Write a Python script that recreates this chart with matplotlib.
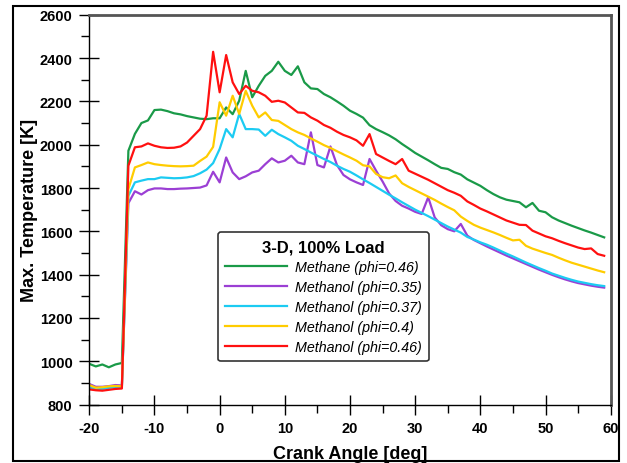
import numpy as np
import matplotlib.pyplot as plt
from matplotlib.patches import Rectangle
from matplotlib.ticker import MultipleLocator

plt.rcParams['font.family'] = ['Liberation Sans', 'DejaVu Sans']
plt.rcParams['axes.unicode_minus'] = False

# crank angle, one value per degree
crank = list(range(-20, 60))

methane_046 = [988, 976, 985, 972, 985, 992,
               1972, 2050, 2100, 2112, 2160, 2162, 2155, 2145, 2140, 2132, 2126, 2120, 2118, 2122,
               2122, 2172, 2141, 2203, 2341, 2219, 2272, 2318, 2341, 2383, 2341, 2322, 2362, 2288,
               2260, 2257, 2234, 2219, 2200, 2180, 2157, 2142, 2125, 2090, 2072, 2058, 2043, 2025,
               2003, 1983, 1962, 1945, 1928, 1910, 1893, 1888, 1873, 1862, 1840, 1825, 1810, 1790,
               1772, 1757, 1746, 1740, 1734, 1711, 1731, 1695, 1688, 1665, 1650, 1638, 1626, 1615,
               1604, 1594, 1583, 1572]

methanol_035 = [895, 882, 882, 885, 890, 888,
                1730, 1785, 1770, 1790, 1798, 1798, 1795, 1795, 1797, 1798, 1800, 1802, 1812, 1875,
                1826, 1941, 1872, 1841, 1854, 1872, 1880, 1910, 1937, 1918, 1926, 1949, 1918, 1910,
                2057, 1906, 1895, 1992, 1906, 1860, 1840, 1826, 1814, 1934, 1880, 1830, 1775, 1740,
                1718, 1705, 1690, 1680, 1757, 1664, 1628, 1610, 1600, 1634, 1580, 1560, 1545, 1530,
                1516, 1502, 1488, 1475, 1462, 1449, 1436, 1423, 1411, 1399, 1388, 1378, 1369, 1361,
                1355, 1349, 1344, 1340]

methanol_037 = [880, 870, 872, 877, 880, 880,
                1764, 1826, 1834, 1841, 1841, 1849, 1847, 1845, 1846, 1849, 1855, 1868, 1885, 1915,
                1980, 2072, 2034, 2142, 2072, 2072, 2070, 2041, 2069, 2049, 2034, 2018, 1995, 1980,
                1964, 1949, 1934, 1920, 1903, 1888, 1875, 1858, 1840, 1823, 1805, 1787, 1769, 1752,
                1734, 1717, 1700, 1685, 1670, 1654, 1638, 1622, 1608, 1594, 1574, 1562, 1549, 1538,
                1525, 1511, 1497, 1484, 1470, 1456, 1443, 1430, 1418, 1405, 1395, 1385, 1376, 1368,
                1362, 1356, 1351, 1347]

methanol_040 = [890, 878, 880, 884, 886, 884,
                1795, 1895, 1906, 1918, 1910, 1906, 1903, 1901, 1900, 1901, 1903, 1925, 1945, 1990,
                2196, 2134, 2226, 2142, 2249, 2180, 2126, 2149, 2114, 2110, 2091, 2072, 2057, 2045,
                2029, 2014, 1998, 1985, 1970, 1955, 1941, 1926, 1905, 1900, 1865, 1850, 1845, 1858,
                1822, 1805, 1790, 1775, 1760, 1745, 1728, 1712, 1697, 1668, 1648, 1630, 1617, 1606,
                1595, 1583, 1570, 1558, 1561, 1533, 1520, 1510, 1500, 1491, 1478, 1466, 1455, 1446,
                1437, 1428, 1419, 1411]

methanol_046 = [870, 866, 864, 868, 872, 874,
                1903, 1988, 1992, 2006, 1995, 1988, 1985, 1986, 1992, 2010, 2041, 2072, 2134, 2429,
                2242, 2414, 2288, 2234, 2272, 2249, 2242, 2226, 2198, 2203, 2195, 2172, 2149, 2147,
                2126, 2111, 2091, 2078, 2060, 2045, 2034, 2020, 1995, 2049, 1957, 1941, 1925, 1910,
                1934, 1880, 1866, 1852, 1838, 1822, 1806, 1790, 1778, 1764, 1738, 1722, 1705, 1692,
                1678, 1664, 1650, 1640, 1630, 1629, 1603, 1590, 1577, 1568, 1556, 1545, 1535, 1525,
                1518, 1521, 1495, 1487]

series = [
    ("Methane (phi=0.46)", methane_046, "#1a9a48"),
    ("Methanol (phi=0.35)", methanol_035, "#9b3fd4"),
    ("Methanol (phi=0.37)", methanol_037, "#1ccbf2"),
    ("Methanol (phi=0.4)", methanol_040, "#ffcc00"),
    ("Methanol (phi=0.46)", methanol_046, "#ff1010"),
]

fig = plt.figure(figsize=(6.27, 4.64), dpi=100)
ax = fig.add_axes([0.1424, 0.126, 0.8316, 0.840])

for label, values, color in series:
    ax.plot(crank, values, color=color, lw=1.6, label=label)

ax.set_xlim(-20, 60)
ax.set_ylim(800, 2600)
ax.xaxis.set_major_locator(MultipleLocator(10))
ax.xaxis.set_minor_locator(MultipleLocator(5))
ax.yaxis.set_major_locator(MultipleLocator(200))
ax.yaxis.set_minor_locator(MultipleLocator(100))
ax.tick_params(which='major', direction='inout', length=14, width=1, pad=5,
               labelsize=10.5)
ax.tick_params(which='minor', direction='out', length=6, width=1)
for lbl in ax.get_xticklabels() + ax.get_yticklabels():
    lbl.set_fontweight('bold')

ax.spines['left'].set_linewidth(1)
ax.spines['bottom'].set_linewidth(1)
for side in ('top', 'right'):
    ax.spines[side].set_linewidth(2)
    ax.spines[side].set_color('#555555')

ax.set_xlabel("Crank Angle [deg]", fontsize=13, fontweight='bold', labelpad=7)
ax.set_ylabel("Max. Temperature [K]", fontsize=13, fontweight='bold', labelpad=1)

leg = ax.legend(loc='upper left', bbox_to_anchor=(0.247, 0.4425), borderaxespad=0,
                title="3-D, 100% Load", prop={'style': 'italic', 'size': 10.3},
                handlelength=4.3, handletextpad=0.6, labelspacing=0.42,
                borderpad=0.5, fancybox=True, framealpha=1, edgecolor='#333333')
leg.get_title().set_fontweight('bold')
leg.get_title().set_fontsize(12)
leg.get_frame().set_linewidth(1.2)

# frame around the whole figure
fig.patches.append(Rectangle((0.0207, 0.0043), 0.9665, 0.9806, transform=fig.transFigure,
                             fill=False, edgecolor='black', lw=1.5))

fig.savefig("out.png", dpi=100)
